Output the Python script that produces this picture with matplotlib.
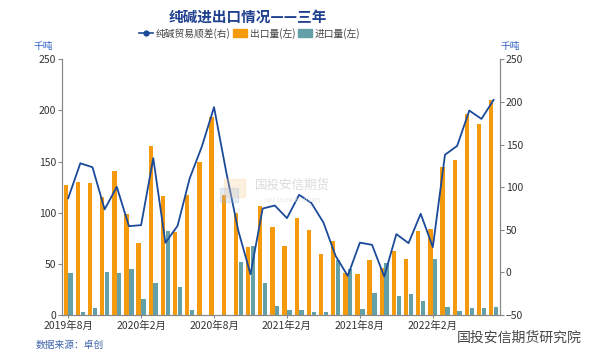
import numpy as np
import matplotlib
matplotlib.use("Agg")
import matplotlib.pyplot as plt
from matplotlib.lines import Line2D
from matplotlib.patches import Patch, Rectangle

plt.rcParams['font.family'] = ['Noto Sans CJK SC', 'DejaVu Sans']

# 2019年8月 - 2022年7月, 千吨
export_vol = [127, 130, 129, 115, 141,
              99, 70.5, 165, 116.5, 81, 117.5, 149.5, 194, 117.5, 99.5, 66.5, 106.5,
              86.5, 67.5, 94.5, 83, 59.5, 72, 41, 40, 54, 46, 63, 55,
              82, 84.5, 145, 152, 196, 186.5, 210]
import_vol = [41, 2.6, 6.8, 42, 41.3,
              45.2, 15.3, 31.6, 82, 27.7, 5.2, 0.4, 0.4, 0.4, 52, 68, 31.3,
              8.8, 4.6, 4.6, 2.6, 2.6, 54, 44.6, 5.9, 22, 51.4, 18.9, 20.8,
              13.7, 55.3, 7.5, 3.6, 6.8, 6.8, 8.1]
balance = [87, 128, 123.4, 74, 100.4,
           54.3, 55.5, 134, 34.8, 54.7, 110.5, 147.7, 193.8, 118, 48.8, -2, 75,
           78.5, 63.7, 91, 81.6, 58.6, 19.5, -4, 35, 32.4, -4.7, 45, 34.4,
           68.8, 29.7, 138, 148.4, 189.8, 180, 202.3]
tick_pos = [0, 6, 12, 18, 24, 30]
tick_labels = ['2019年8月', '2020年2月', '2020年8月', '2021年2月', '2021年8月', '2022年2月']

c_exp = '#F59A0C'
c_imp = '#63A0A8'
c_line = '#1C4A9A'
c_axis = '#888888'
c_txt = '#333333'

fig = plt.figure(figsize=(5.97, 3.61), dpi=100)
ax = fig.add_axes([0.104, 0.127, 0.733, 0.709])
ax2 = ax.twinx()

x = np.arange(len(export_vol))
w = 0.36
ax.bar(x - 0.2, export_vol, w, color=c_exp, zorder=2)
ax.bar(x + 0.2, import_vol, w, color=c_imp, zorder=2)
ax2.plot(x, balance, color=c_line, lw=1.3, zorder=3)

ax.set_xlim(-0.5, len(x) - 0.5)
ax.set_ylim(0, 250)
ax.set_yticks(range(0, 251, 50))
ax2.set_ylim(-50, 250)
ax2.set_yticks(range(-50, 251, 50))
ax.set_xticks(tick_pos)
ax.set_xticklabels(tick_labels)

for a in (ax, ax2):
    a.spines['top'].set_visible(False)
    for s in ('left', 'right', 'bottom'):
        a.spines[s].set_color(c_axis)
        a.spines[s].set_linewidth(0.8)
    a.tick_params(axis='both', labelsize=7.5, colors=c_axis, labelcolor=c_txt,
                  length=3, width=0.8, pad=1.5)
ax.tick_params(axis='x', length=2.5)

fig.text(0.072, 0.873, '千吨', color='#2F5FC4', fontsize=7, ha='center', va='center')
fig.text(0.855, 0.873, '千吨', color='#2F5FC4', fontsize=7, ha='center', va='center')

fig.text(0.415, 0.955, '纯碱进出口情况——三年', color='#1F3F8F', fontsize=10.5,
         fontweight='bold', ha='center', va='center')

handles = [Line2D([0], [0], color=c_line, lw=1.2, marker='o', markersize=3.5),
           Patch(color=c_exp), Patch(color=c_imp)]
labels = ['纯碱贸易顺差(右)', '出口量(左)', '进口量(左)']
fig.legend(handles, labels, loc='center', bbox_to_anchor=(0.418, 0.908), ncol=3,
           frameon=False, fontsize=7, handlelength=1.4, handleheight=0.8,
           columnspacing=0.3, handletextpad=0.3, labelcolor='#444444')

# watermark
fig.patches.append(Rectangle((0.375, 0.455), 0.035, 0.05, transform=fig.transFigure,
                             color='#F6C98A', alpha=0.25, zorder=1))
fig.patches.append(Rectangle((0.368, 0.44), 0.03, 0.04, transform=fig.transFigure,
                             color='#9FB4DA', alpha=0.25, zorder=1))
fig.text(0.49, 0.487, '国投安信期货', color='#D2D2D2', fontsize=9, ha='center',
         va='center', alpha=0.8)
fig.text(0.49, 0.445, 'SDIC ESSENCE FUTURES', color='#E4E4E4', fontsize=3.5,
         ha='center', va='center')

fig.text(0.059, 0.045, '数据来源：卓创', color='#3D64AA', fontsize=7, ha='left', va='center')
fig.text(0.87, 0.065, '国投安信期货研究院', color='#333333', fontsize=10, ha='center',
         va='center', alpha=0.9)

fig.savefig('out.png', dpi=100)
